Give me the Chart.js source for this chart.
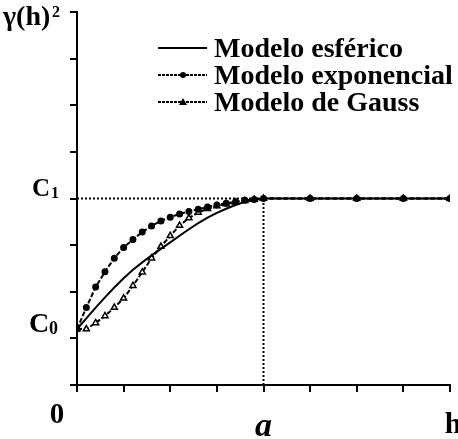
<!DOCTYPE html>
<html>
<head>
<meta charset="utf-8">
<script src="https://cdn.jsdelivr.net/npm/chart.js@4.4.1/dist/chart.umd.min.js"></script>
<style>
  html, body { margin: 0; padding: 0; background: #fff; }
  #wrap { width: 458px; height: 439px; }
</style>
</head>
<body>
<div id="wrap"><canvas id="myChart" width="458" height="439"></canvas></div>
<script>
// lag distances (h)
const distancias = [0, 0.2, 0.4, 0.6, 0.8, 1.0, 1.2, 1.4, 1.6, 1.8, 2.0, 2.2, 2.4, 2.6, 2.8, 3.0, 3.2, 3.4, 3.6, 3.8, 4.0, 5, 6, 7, 8];

// semivariance of each model
const esferico = [1.2, 1.43, 1.66, 1.88, 2.09, 2.29, 2.47, 2.63, 2.78, 2.92, 3.06, 3.2, 3.34, 3.47, 3.59, 3.69, 3.78, 3.86, 3.93, 3.97, 4.0, 4.0, 4.0, 4.0, 4.0];
const exponencial = [1.2, 1.66, 2.1, 2.43, 2.72, 2.95, 3.12, 3.28, 3.41, 3.52, 3.6, 3.67, 3.72, 3.77, 3.82, 3.86, 3.9, 3.93, 3.96, 3.98, 4.0, 4.0, 4.0, 4.0, 4.0];
const gauss = [1.2, 1.2, 1.33, 1.48, 1.66, 1.86, 2.13, 2.42, 2.72, 2.97, 3.2, 3.42, 3.58, 3.7, 3.78, 3.84, 3.88, 3.92, 3.95, 3.98, 4.0, 4.0, 4.0, 4.0, 4.0];

// nugget, sill and range
const c0 = 1.2;
const c1 = 4;
const alcance = 4;

const legendLabels = ['Modelo esférico', 'Modelo exponencial', 'Modelo de Gauss'];

const toPoints = ys => ys.map((y, i) => ({ x: distancias[i], y: y }));

const serif = '"Liberation Serif", "DejaVu Serif", serif';

// axis labels + legend drawn on the canvas
const labelsPlugin = {
    id: 'labels',
    afterDraw(chart) {
        const c = chart.ctx;
        const xs = chart.scales.x;
        const ys = chart.scales.y;
        c.save();
        c.fillStyle = '#000';
        c.textBaseline = 'alphabetic';

        // y labels
        c.textAlign = 'left';
        c.font = 'bold 25px ' + serif;
        c.fillText('C', 32, 196);
        c.font = 'bold 16px ' + serif;
        c.fillText('1', 51, 198);
        c.font = 'bold 28px ' + serif;
        c.fillText('C', 29, 332);
        c.font = 'bold 18px ' + serif;
        c.fillText('0', 49, 334);

        c.font = 'bold 28px ' + serif;
        c.fillText('\u03B3(h)', 3, 25);
        c.font = 'bold 16px ' + serif;
        c.fillText('2', 52, 17);

        // x labels
        c.textAlign = 'center';
        c.font = 'bold 29px ' + serif;
        c.fillText('0', 57, 423);
        c.font = 'italic bold 34px ' + serif;
        c.fillText('a', xs.getPixelForValue(alcance), 436);
        c.font = 'bold 30px ' + serif;
        c.fillText('h', 453, 433);

        // legend
        const rows = [48, 75, 102];
        c.textAlign = 'left';
        c.font = 'bold 28px ' + serif;
        rows.forEach((y, i) => {
            c.beginPath();
            c.lineWidth = 2;
            c.strokeStyle = '#000';
            c.setLineDash(i === 0 ? [] : [3, 1]);
            c.moveTo(158, y);
            c.lineTo(207, y);
            c.stroke();
            c.setLineDash([]);
            if (i === 1) {
                c.beginPath();
                c.arc(183, y, 3, 0, Math.PI * 2);
                c.fill();
            } else if (i === 2) {
                c.beginPath();
                c.moveTo(183, y - 4);
                c.lineTo(187, y + 3);
                c.lineTo(179, y + 3);
                c.closePath();
                c.fill();
            }
            c.fillText(legendLabels[i], 214, y + 9);
        });
        c.restore();
    }
};

const ctx = document.getElementById('myChart').getContext('2d');

const chart = new Chart(ctx, {
    type: 'scatter',
    data: {
        datasets: [
            {
                label: 'sill',
                data: [{ x: 0, y: c1 }, { x: alcance, y: c1 }],
                showLine: true,
                borderColor: '#000',
                borderWidth: 2,
                borderDash: [2, 2],
                pointRadius: 0
            },
            {
                label: 'range',
                data: [{ x: alcance, y: 0 }, { x: alcance, y: c1 }],
                showLine: true,
                borderColor: '#000',
                borderWidth: 2,
                borderDash: [2, 2],
                pointRadius: 0
            },
            {
                label: legendLabels[0],
                data: toPoints(esferico),
                showLine: true,
                borderColor: '#000',
                borderWidth: 2,
                pointRadius: 0
            },
            {
                label: legendLabels[1],
                data: toPoints(exponencial),
                showLine: true,
                borderColor: '#000',
                borderWidth: 2,
                borderDash: [5, 2],
                pointStyle: 'circle',
                pointRadius: 2.5,
                backgroundColor: '#000',
                pointBorderColor: '#000'
            },
            {
                label: legendLabels[2],
                data: toPoints(gauss),
                showLine: true,
                borderColor: '#000',
                borderWidth: 2,
                borderDash: [5, 2],
                pointStyle: 'triangle',
                pointRadius: 3.5,
                pointBorderWidth: 1.5,
                backgroundColor: '#fff',
                pointBorderColor: '#000'
            }
        ]
    },
    options: {
        responsive: false,
        animation: false,
        layout: { padding: { top: 12, right: 8, left: 0, bottom: 0 } },
        plugins: {
            legend: { display: false },
            tooltip: { enabled: false }
        },
        scales: {
            x: {
                type: 'linear',
                min: 0,
                max: 8,
                afterFit(s) { s.height = 54; },
                ticks: { stepSize: 1, display: false },
                grid: { drawOnChartArea: false, tickLength: 7, color: '#000', lineWidth: 2 },
                border: { color: '#000', width: 2 }
            },
            y: {
                min: 0,
                max: 8,
                afterFit(s) { s.width = 77; },
                ticks: { stepSize: 1, display: false },
                grid: { drawOnChartArea: false, tickLength: 7, color: '#000', lineWidth: 2 },
                border: { color: '#000', width: 2 }
            }
        }
    },
    plugins: [labelsPlugin]
});
</script>
</body>
</html>
